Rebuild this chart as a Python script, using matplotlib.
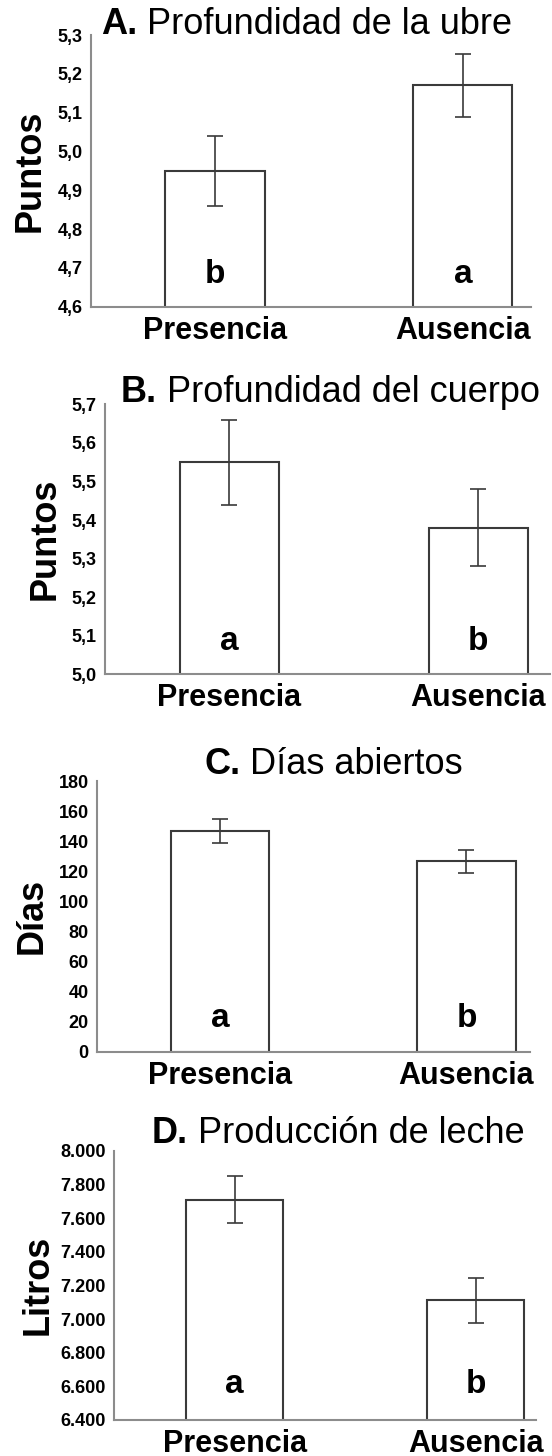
import matplotlib
matplotlib.use("Agg")
import matplotlib.pyplot as plt
import matplotlib.transforms as mtransforms

plt.rcParams['font.family'] = ['Liberation Sans', 'DejaVu Sans']

grupos = ["Presencia", "Ausencia"]

# A. Profundidad de la ubre
ubre_media = [4.95, 5.17]
ubre_err = [0.09, 0.08]
ubre_letras = ["b", "a"]
ubre_ticks = [4.6, 4.7, 4.8, 4.9, 5.0, 5.1, 5.2, 5.3]
ubre_ticklabels = ["4,6", "4,7", "4,8", "4,9", "5,0", "5,1", "5,2", "5,3"]

# B. Profundidad del cuerpo
cuerpo_media = [5.55, 5.38]
cuerpo_err = [0.11, 0.10]
cuerpo_letras = ["a", "b"]
cuerpo_ticks = [5.0, 5.1, 5.2, 5.3, 5.4, 5.5, 5.6, 5.7]
cuerpo_ticklabels = ["5,0", "5,1", "5,2", "5,3", "5,4", "5,5", "5,6", "5,7"]

# C. Dias abiertos
dias_media = [147, 126.5]
dias_err = [8, 7.5]
dias_letras = ["a", "b"]
dias_ticks = [0, 20, 40, 60, 80, 100, 120, 140, 160, 180]
dias_ticklabels = ["0", "20", "40", "60", "80", "100", "120", "140", "160", "180"]

# D. Produccion de leche
leche_media = [7710, 7110]
leche_err = [140, 135]
leche_letras = ["a", "b"]
leche_ticks = [6400, 6600, 6800, 7000, 7200, 7400, 7600, 7800, 8000]
leche_ticklabels = ["6.400", "6.600", "6.800", "7.000", "7.200", "7.400",
                    "7.600", "7.800", "8.000"]

W, H = 552, 1456
fig = plt.figure(figsize=(W / 100, H / 100), dpi=100)

eje_color = "#8c8c8c"
barra_color = "#3a3a3a"


def panel(caja, xmax, media, err, letras, ticks, ticklabels, ylabel, ylabel_x,
          letra_y, letra_tit, titulo, tit_x, tit_y):
    left, top, right, bottom = caja
    ax = fig.add_axes([left / W, 1 - bottom / H, (right - left) / W, (bottom - top) / H])
    ax.bar([0, 1], media, width=0.4, color="white", edgecolor=barra_color,
           linewidth=1.5, yerr=err, capsize=6,
           error_kw=dict(ecolor=barra_color, elinewidth=1.2, capthick=1.2))
    ax.set_xlim(-0.5, xmax)
    ax.set_ylim(ticks[0], ticks[-1])
    ax.set_yticks(ticks)
    ax.set_yticklabels(ticklabels, fontsize=13, fontweight="bold")
    ax.set_xticks([0, 1])
    ax.set_xticklabels(grupos, fontsize=22, fontweight="bold")
    ax.tick_params(axis="y", length=0, pad=6)
    ax.tick_params(axis="x", length=0, pad=6.5)
    for s in ["top", "right"]:
        ax.spines[s].set_visible(False)
    for s in ["left", "bottom"]:
        ax.spines[s].set_color(eje_color)
        ax.spines[s].set_linewidth(1.5)
    ax.set_ylabel(ylabel, fontsize=26, fontweight="bold")
    ax.yaxis.set_label_coords((ylabel_x - left) / (right - left), 0.5)
    trans = mtransforms.blended_transform_factory(ax.transData, ax.transAxes)
    for i, l in enumerate(letras):
        ax.text(i, letra_y, l, transform=trans, ha="center", va="baseline",
                fontsize=24, fontweight="bold")
    t1 = fig.text(tit_x / W, 1 - tit_y / H, letra_tit, fontsize=26,
                  fontweight="bold", ha="left", va="baseline")
    ax.annotate(" " + titulo, xy=(1, 0), xycoords=t1, ha="left", va="bottom",
                fontsize=26, annotation_clip=False)
    return ax


panel((91, 35, 531, 306.7), 1.275, ubre_media, ubre_err, ubre_letras,
      ubre_ticks, ubre_ticklabels, "Puntos", 48, 0.088,
      "A.", "Profundidad de la ubre", 101, 34)
panel((105, 404.3, 550, 674.3), 1.288, cuerpo_media, cuerpo_err, cuerpo_letras,
      cuerpo_ticks, cuerpo_ticklabels, "Puntos", 63, 0.09,
      "B.", "Profundidad del cuerpo", 121, 401.7)
panel((97, 781, 530, 1051.7), 1.258, dias_media, dias_err, dias_letras,
      dias_ticks, dias_ticklabels, "Días", 50, 0.092,
      "C.", "Días abiertos", 204, 774.3)
panel((114, 1150.7, 536, 1420), 1.25, leche_media, leche_err, leche_letras,
      leche_ticks, leche_ticklabels, "Litros", 56, 0.099,
      "D.", "Producción de leche", 152, 1143.3)

fig.savefig("out.png", dpi=100)
